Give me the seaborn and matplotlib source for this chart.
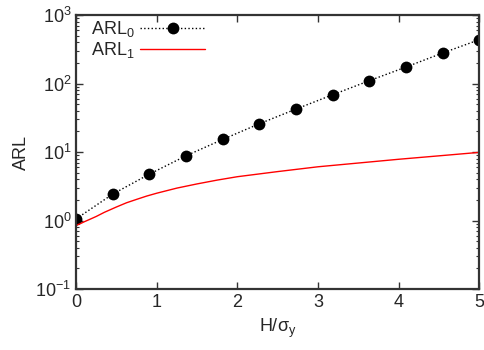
import numpy as np
import pandas as pd
import matplotlib
matplotlib.use("Agg")
import matplotlib.pyplot as plt
import seaborn as sns
from matplotlib.ticker import LogLocator, MultipleLocator

# data
h0 = [0.0, 0.4545, 0.9091, 1.3636, 1.8182, 2.2727, 2.7273, 3.1818, 3.6364, 4.0909, 4.5455, 5.0]
arl0 = [1.06, 2.44, 4.77, 8.83, 15.3, 25.9, 42.4, 68.6, 110, 174, 279, 436]
h1 = [0.0, 0.05, 0.1, 0.175, 0.25, 0.35, 0.5, 0.625, 0.75, 0.875, 1.0, 1.25, 1.5, 1.75,
      2.0, 2.5, 3.0, 3.5, 4.0, 4.5, 5.0]
arl1 = [0.85, 0.9, 0.96, 1.05, 1.15, 1.32, 1.58, 1.82, 2.04, 2.28, 2.51, 2.98, 3.43, 3.9,
        4.37, 5.19, 6.1, 6.92, 7.85, 8.81, 9.9]

sns.set_style("ticks")
plt.rcParams["font.family"] = ["Liberation Sans", "DejaVu Sans"]
plt.rcParams["mathtext.fontset"] = "custom"
plt.rcParams["mathtext.rm"] = "Liberation Sans"
plt.rcParams["mathtext.it"] = "Liberation Sans"
plt.rcParams["mathtext.default"] = "regular"
plt.rcParams["axes.unicode_minus"] = False

fig = plt.figure(figsize=(4.85, 3.5), dpi=100)
ax = fig.add_axes([0.157, 0.174, 0.831, 0.783])

d0 = pd.DataFrame({"H": h0, "ARL": arl0})
d1 = pd.DataFrame({"H": h1, "ARL": arl1})
sns.lineplot(data=d0, x="H", y="ARL", ax=ax, color="black", linestyle=":",
             linewidth=1.0, marker="o", markersize=8.5, markeredgewidth=0,
             label="ARL$_0$")
sns.lineplot(data=d1, x="H", y="ARL", ax=ax, color="#ff0000", linewidth=1.0,
             label="ARL$_1$")

ax.set_yscale("log")
ax.set_xlim(0, 5)
ax.set_ylim(0.1, 1000)
ax.xaxis.set_major_locator(MultipleLocator(1))
ax.yaxis.set_major_locator(LogLocator(base=10, numticks=10))
ax.yaxis.set_minor_locator(LogLocator(base=10, subs=np.arange(2, 10), numticks=20))
ax.tick_params(which="both", direction="in", top=True, right=True, labelsize=13,
               color="#333333")
ax.tick_params(which="major", length=5, width=1)
ax.tick_params(which="minor", length=2.5, width=0.8)
ax.tick_params(axis="x", which="minor", top=False, bottom=False)
for s in ax.spines.values():
    s.set_linewidth(1.6)
    s.set_color("#333333")

ax.set_xlabel("H/$\\sigma_y$", fontsize=13)
ax.set_ylabel("ARL", fontsize=13)

ax.legend(loc="upper left", bbox_to_anchor=(0.01, 1.025), frameon=False,
          markerfirst=False, fontsize=13, handlelength=3.6,
          handletextpad=0.3, labelspacing=0.05, borderaxespad=0.2)

fig.savefig("out.png", dpi=100)
